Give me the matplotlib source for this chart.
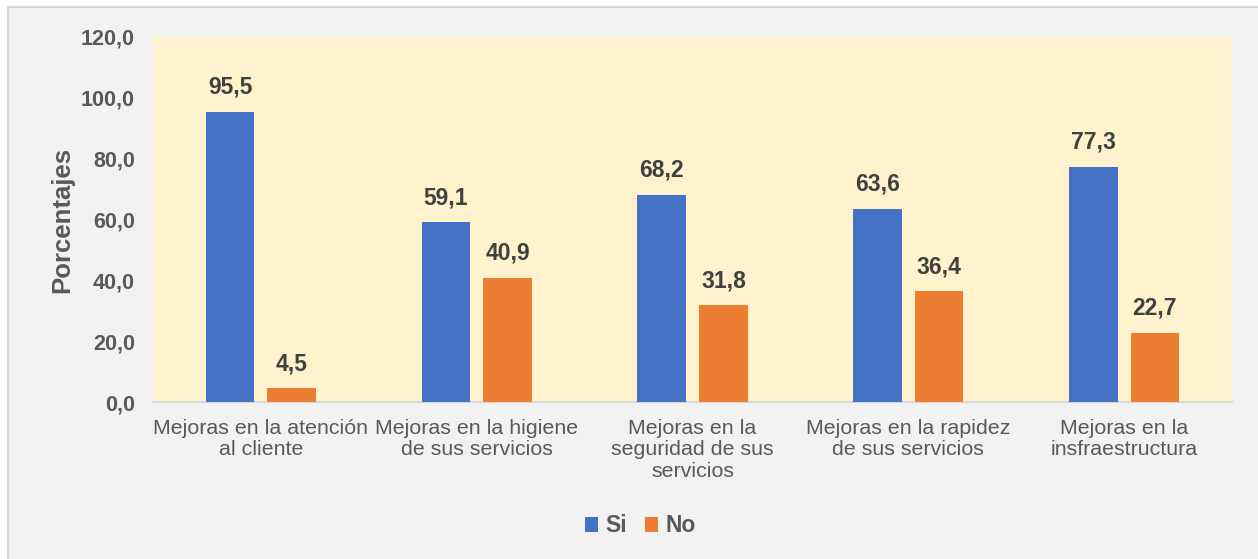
import matplotlib
matplotlib.use("Agg")
import matplotlib.pyplot as plt
from matplotlib.patches import Rectangle
import numpy as np

categories = ["Mejoras en la atención\nal cliente",
              "Mejoras en la higiene\nde sus servicios",
              "Mejoras en la\nseguridad de sus\nservicios",
              "Mejoras en la rapidez\nde sus servicios",
              "Mejoras en la\ninsfraestructura"]
si = [95.5, 59.1, 68.2, 63.6, 77.3]
no = [4.5, 40.9, 31.8, 36.4, 22.7]
yticks = [0, 20, 40, 60, 80, 100, 120]

BLUE = "#4472C4"
ORANGE = "#ED7D31"
GREY = "#595959"
FONT = "Liberation Sans"

W, H = 1258, 559
fig = plt.figure(figsize=(W / 100, H / 100), dpi=100)
fig.patch.set_facecolor("white")
fig.patches.append(Rectangle((8 / W, -0.05), 1.1, (H - 7) / H + 0.05,
                             transform=fig.transFigure, facecolor="#f2f2f2",
                             edgecolor="#d9d9d9", lw=1.5, zorder=-10))

ax = fig.add_axes([153 / W, 1 - 402 / H, (1232 - 153) / W, (402 - 37) / H])
ax.set_facecolor("#FFF2CC")

x = np.arange(len(categories))
off, w = 0.143, 0.225
b1 = ax.bar(x - off, si, width=w, color=BLUE, label="Si", zorder=3)
b2 = ax.bar(x + off, no, width=w, color=ORANGE, label="No", zorder=3)
for bars in (b1, b2):
    for r in bars:
        ax.annotate(f"{r.get_height():.1f}".replace(".", ","),
                    (r.get_x() + r.get_width() / 2, r.get_height()),
                    xytext=(0, 9.5), textcoords="offset points", ha="center",
                    va="bottom", fontsize=16.5, fontweight="bold",
                    color="#404040", family=FONT)

ax.set_xlim(-0.5, len(categories) - 0.5)
ax.set_ylim(0, 120)
ax.set_yticks(yticks, [f"{v:.1f}".replace(".", ",") for v in yticks],
              fontsize=15.5, fontweight="bold", color=GREY, family=FONT)
ax.set_xticks(x, categories, fontsize=15.4, color=GREY, family=FONT,
              linespacing=1.18)
ax.tick_params(length=0)
ax.tick_params(axis="y", pad=13)
ax.tick_params(axis="x", pad=12)
for s in ("top", "right", "left"):
    ax.spines[s].set_visible(False)
ax.spines["bottom"].set_color("#d9d9d9")
ax.spines["bottom"].set_linewidth(1.5)

ax.set_ylabel("Porcentajes", fontsize=18.5, fontweight="bold", color=GREY,
              family=FONT, labelpad=5)

leg = fig.legend(handles=[b1, b2], loc="center", bbox_to_anchor=(640 / W, 1 - 526 / H),
                 ncol=2, frameon=False, handlelength=0.58, handleheight=0.58,
                 handletextpad=0.3, columnspacing=0.8,
                 prop={"family": FONT, "size": 16.5, "weight": "bold"})
for t in leg.get_texts():
    t.set_color(GREY)

fig.savefig("out.png", dpi=100)
